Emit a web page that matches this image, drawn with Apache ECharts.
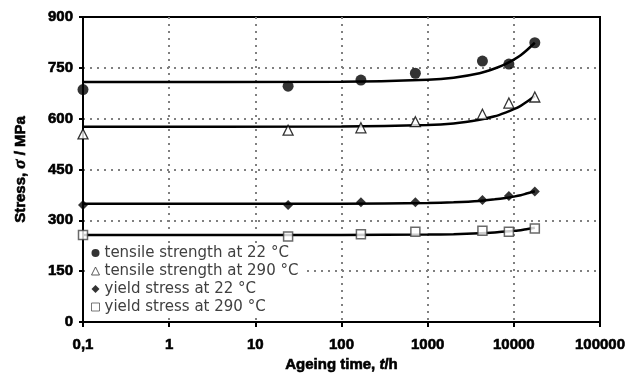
<!DOCTYPE html>
<html>
<head>
<meta charset="utf-8">
<script src="https://cdn.jsdelivr.net/npm/echarts@6/dist/echarts.min.js"></script>
<style>
  html, body { margin: 0; padding: 0; background: #fff; }
  #chart { width: 637px; height: 379px; }
</style>
</head>
<body>
<div id="chart"></div>
<script>
// ageing times of the measurements (h)
const times = [0.1, 24, 168, 720, 4320, 8760, 17520]
const tensile22 = [686, 696, 714, 734, 770, 761, 824]
const tensile290 = [555, 566, 573, 591, 613, 646, 664]
const yield22 = [345, 345, 353, 353, 360, 372, 385]
const yield290 = [257, 252, 259, 266, 269, 266, 276]

// trend lines
const fitTimes = [0.1, 100, 1000, 2000, 4000, 6000, 8000, 10000, 12000, 14000, 17520]
const tensile22Fit = [708, 709, 715, 721, 734, 748, 761, 774, 787, 801, 824]
const tensile290Fit = [576, 577, 581, 586, 597, 607, 618, 628, 638, 649, 667]
const yield22Fit = [349, 349, 351, 353, 357, 362, 366, 370, 374, 379, 386]
const yield290Fit = [257, 257, 258, 259, 262, 264, 267, 269, 271, 274, 278]

const yTicks = [0, 150, 300, 450, 600, 750, 900]

const seriesNames = [
  'tensile strength at 22 °C',
  'tensile strength at 290 °C',
  'yield stress at 22 °C',
  'yield stress at 290 °C'
]

const pair = (xs, ys) => xs.map((x, i) => [x, ys[i]])

const fitLine = (values) => ({
  type: 'line',
  data: pair(fitTimes, values),
  showSymbol: false,
  symbol: 'none',
  smooth: 0.2,
  lineStyle: { color: '#000', width: 2.5 },
  z: 3,
  silent: true,
  legendHoverLink: false
})

const gridLine = { show: true, showMinLine: false, showMaxLine: false, lineStyle: { color: '#808080', width: 2, type: [2, 5] } }

// heavy bold text like the original
const heavy = {
  fontFamily: 'Liberation Sans', fontWeight: 'bold', fontSize: 15, color: '#000',
  textBorderColor: '#000', textBorderWidth: 0.6
}

const chart = echarts.init(document.getElementById('chart'), null, { renderer: 'canvas' })

chart.setOption({
  animation: false,
  backgroundColor: '#fff',
  grid: {
    left: 83, right: 37, top: 17, bottom: 57,
    show: true, borderColor: '#000', borderWidth: 2
  },
  legend: {
    orient: 'vertical',
    left: 88, top: 243,
    padding: [1, 4, 1, 3],
    backgroundColor: '#fff',
    itemWidth: 8, itemHeight: 8, itemGap: 0,
    textStyle: { fontFamily: 'DejaVu Sans', fontSize: 15, color: '#404040', lineHeight: 18 },
    data: [
      { name: seriesNames[0], icon: 'circle', itemStyle: { color: '#000', borderWidth: 0 } },
      { name: seriesNames[1], icon: 'triangle', itemStyle: { color: '#fff', borderColor: '#333', borderWidth: 1 } },
      { name: seriesNames[2], icon: 'diamond', itemStyle: { color: '#000', borderWidth: 0 } },
      { name: seriesNames[3], icon: 'rect', itemStyle: { color: '#fff', borderColor: '#555', borderWidth: 1 } }
    ],
    z: 10
  },
  xAxis: {
    type: 'log', logBase: 10, min: 0.1, max: 100000,
    name: 'Ageing time, {i|t}/h',
    nameLocation: 'middle', nameGap: 33,
    nameTextStyle: Object.assign({}, heavy, {
      rich: { i: Object.assign({}, heavy, { fontStyle: 'italic' }) }
    }),
    axisLine: { lineStyle: { color: '#000', width: 2 } },
    axisTick: { show: true, length: 5, lineStyle: { color: '#000', width: 2 } },
    axisLabel: Object.assign({}, heavy, {
      margin: 15,
      formatter: v => String(v).replace('.', ',')
    }),
    splitLine: gridLine,
    minorTick: { show: false }
  },
  yAxis: {
    type: 'value', min: yTicks[0], max: yTicks[yTicks.length - 1], interval: 150,
    name: 'Stress, {i|σ} / MPa',
    nameLocation: 'middle', nameGap: 54,
    nameTextStyle: Object.assign({}, heavy, {
      rich: { i: Object.assign({}, heavy, { fontFamily: 'Liberation Serif', fontStyle: 'italic', fontSize: 17 }) }
    }),
    axisLine: { show: true, lineStyle: { color: '#000', width: 2 } },
    axisTick: { show: true, length: 4, lineStyle: { color: '#000', width: 2 } },
    axisLabel: Object.assign({}, heavy, { margin: 10 }),
    splitLine: gridLine
  },
  series: [
    fitLine(tensile22Fit),
    fitLine(tensile290Fit),
    fitLine(yield22Fit),
    fitLine(yield290Fit),
    {
      name: seriesNames[0],
      type: 'scatter', data: pair(times, tensile22),
      symbol: 'circle', symbolSize: 11,
      itemStyle: { color: '#000' }, z: 5
    },
    {
      name: seriesNames[1],
      type: 'scatter', data: pair(times, tensile290),
      symbol: 'triangle', symbolSize: 10,
      itemStyle: { color: '#fff', borderColor: '#000', borderWidth: 1.3 }, z: 5
    },
    {
      name: seriesNames[2],
      type: 'scatter', data: pair(times, yield22),
      symbol: 'diamond', symbolSize: 10,
      itemStyle: { color: '#000' }, z: 5
    },
    {
      name: seriesNames[3],
      type: 'scatter', data: pair(times, yield290),
      symbol: 'rect', symbolSize: 9,
      itemStyle: { color: '#fff', borderColor: '#444', borderWidth: 1.5 }, z: 5
    }
  ]
})

window.addEventListener('resize', () => chart.resize())
</script>
</body>
</html>
